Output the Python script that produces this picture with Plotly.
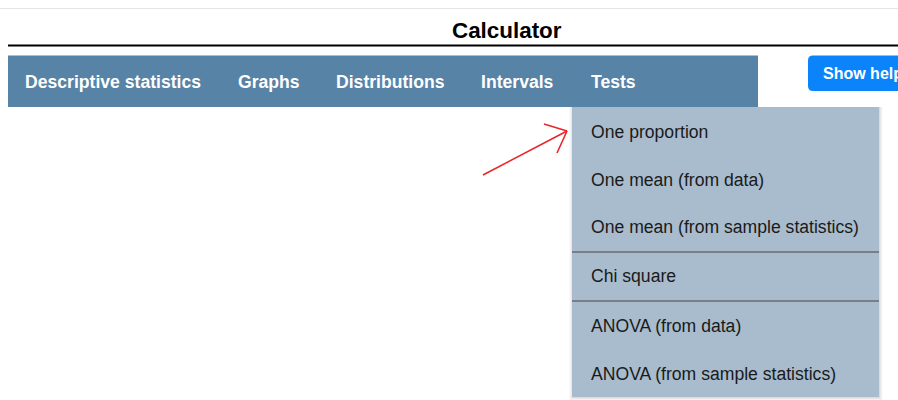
import plotly.graph_objects as go

# ---- content ----
page_title = "Calculator"
nav_labels = ["Descriptive statistics", "Graphs", "Distributions", "Intervals", "Tests"]
button_label = "Show help"
menu_labels = [
    "One proportion",
    "One mean (from data)",
    "One mean (from sample statistics)",
    "Chi square",
    "ANOVA (from data)",
    "ANOVA (from sample statistics)",
]

# ---- layout positions (page pixel space) ----
nav_x = [25, 238, 336, 481, 591]
menu_y = [131.5, 179.5, 227, 276, 325.5, 373.5]
divider_y = [252, 301]

FONT = "Liberation Sans, Arial, Helvetica, sans-serif"
NAV_BG = "#5683a6"
MENU_BG = "#a8bccd"
BTN_BG = "#0b84fb"

W, H = 898, 400
PAD = -2  # compensate annotation box padding

fig = go.Figure()
shapes = []
ann = []

# top faint rule
shapes.append(dict(type="line", x0=0, x1=898, y0=8.5, y1=8.5, line=dict(color="#e6e6e6", width=1)))
# title
ann.append(dict(x=507, y=30, text=f"<b>{page_title}</b>", showarrow=False, xanchor="center", yanchor="middle",
                font=dict(family=FONT, size=22.4, color="#000")))
# black rule
shapes.append(dict(type="rect", x0=8, x1=898, y0=44.5, y1=46.5, fillcolor="#000", line=dict(width=0)))

# nav bar
shapes.append(dict(type="rect", x0=8, x1=758, y0=55.5, y1=107, fillcolor=NAV_BG, line=dict(width=0)))
for lab, x in zip(nav_labels, nav_x):
    ann.append(dict(x=x, y=81.5, xshift=PAD, text=f"<b>{lab}</b>", showarrow=False, xanchor="left",
                    yanchor="middle", font=dict(family=FONT, size=17.6, color="#fff")))

# show help button (rounded, runs off the right edge)
x0, x1, y0, y1, r = 808, 910, 55.5, 91, 5
btn_path = (f"M {x0+r},{y0} L {x1},{y0} L {x1},{y1} L {x0+r},{y1} "
            f"Q {x0},{y1} {x0},{y1-r} L {x0},{y0+r} Q {x0},{y0} {x0+r},{y0} Z")
shapes.append(dict(type="path", path=btn_path, fillcolor=BTN_BG, line=dict(width=0)))
ann.append(dict(x=823, y=73.5, xshift=PAD, text=f"<b>{button_label}</b>", showarrow=False, xanchor="left",
                yanchor="middle", font=dict(family=FONT, size=16, color="#fff")))

# dropdown shadow
for i, a in enumerate([0.05, 0.04, 0.03, 0.02]):
    d = i + 1
    shapes.append(dict(type="rect", x0=572 - d + 1, x1=879 + d, y0=107, y1=397 + d,
                       fillcolor=f"rgba(0,0,0,{a})", line=dict(width=0)))
# dropdown body
shapes.append(dict(type="rect", x0=572, x1=879, y0=107, y1=397, fillcolor=MENU_BG, line=dict(width=0)))
for yy in divider_y:
    shapes.append(dict(type="rect", x0=572, x1=879, y0=yy - 1, y1=yy + 1, fillcolor="#7a7f85", line=dict(width=0)))
for lab, yy in zip(menu_labels, menu_y):
    ann.append(dict(x=591, y=yy, xshift=PAD, text=lab, showarrow=False, xanchor="left", yanchor="middle",
                    font=dict(family=FONT, size=17.6, color="#1a1a1a")))

# red hand-drawn arrow
RED = "#e8262b"
shapes.append(dict(type="line", x0=483, y0=175, x1=567, y1=131, line=dict(color=RED, width=1.6)))
shapes.append(dict(type="line", x0=544, y0=124, x1=567, y1=131, line=dict(color=RED, width=1.6)))
shapes.append(dict(type="line", x0=557, y0=153, x1=567, y1=131, line=dict(color=RED, width=1.6)))

fig.update_layout(
    width=W, height=H,
    margin=dict(l=0, r=0, t=0, b=0),
    paper_bgcolor="#fff", plot_bgcolor="#fff",
    xaxis=dict(range=[0, W], visible=False, fixedrange=True),
    yaxis=dict(range=[H, 0], visible=False, fixedrange=True),
    shapes=shapes, annotations=ann, showlegend=False,
)
fig.write_html(
    "out.html",
    config={"displayModeBar": False},
    post_script="document.body.style.margin='0';document.body.style.overflow='hidden';",
)
